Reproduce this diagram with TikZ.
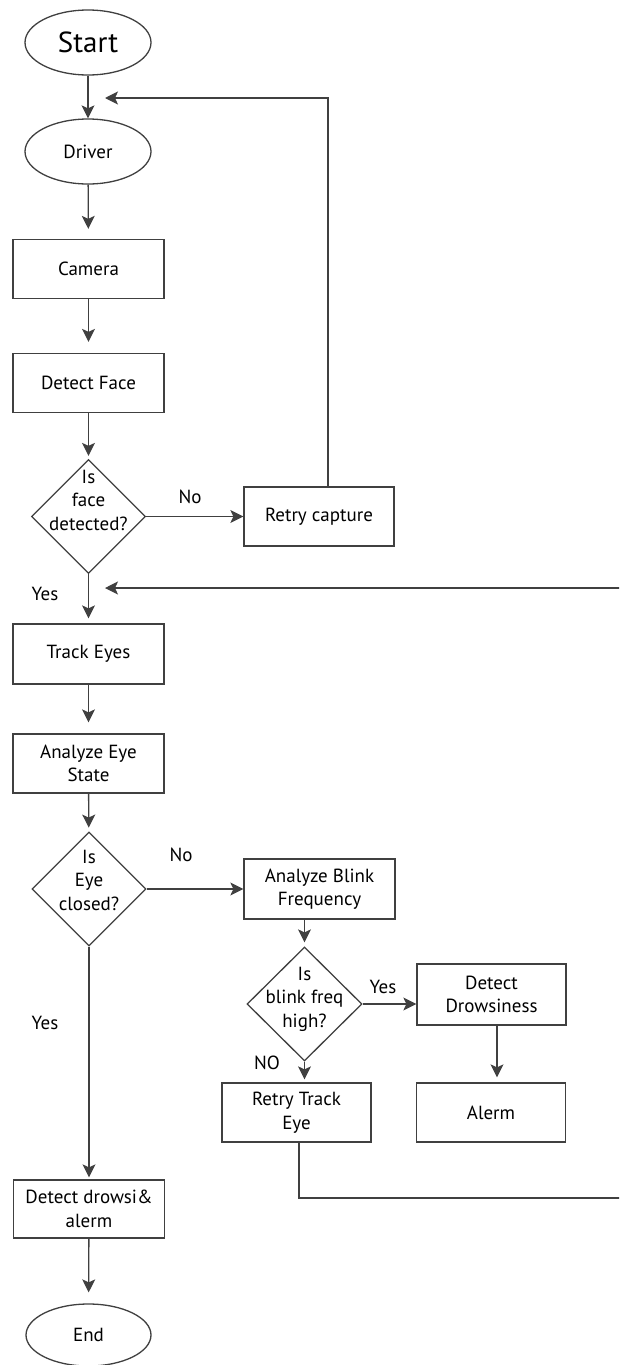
\documentclass[tikz,border=0pt]{standalone}
\usepackage{fontspec}
\setmainfont{PT Sans}
\usetikzlibrary{shapes.geometric,arrows.meta,calc}
\begin{document}
\begin{tikzpicture}[x=1pt,y=-1pt,
  line/.style={draw=black!75, line width=1.3pt},
  arr/.style={line, -{Stealth[length=13pt,width=13pt,inset=3pt]}},
  txt/.style={font=\fontsize{19}{23.5}\selectfont, align=center, inner sep=0pt},
  box/.style={rectangle, line, fill=white, txt, minimum width=151pt, minimum height=59pt},
  term/.style={ellipse, line, fill=white, txt, minimum width=126pt, minimum height=65pt},
  decision/.style={diamond, line, fill=white, minimum width=114pt, minimum height=114pt, inner sep=0pt},
  lbl/.style={font=\fontsize{19}{20}\selectfont, inner sep=0pt}
]
\useasboundingbox (0,0) rectangle (619,1365);
\clip (0,0) rectangle (619,1365);

% main column
\node[term, font=\fontsize{29}{30}\selectfont] (start) at (88,42.5) {Start};
\node[term] (driver) at (88,151.5) {Driver};
\node[box] (camera) at (88.5,269) {Camera};
\node[box] (face) at (88.5,383) {Detect Face};
\node[decision] (d1) at (88.5,516.5) {};
\node[txt] (d1t) at (88.5,500) {Is\\face\\detected?};
\node[box, minimum height=60pt] (track) at (88.5,654) {Track Eyes};
\node[box] (eye) at (88.5,763.5) {Analyze Eye\\State};
\node[decision] (d2) at (89,889) {};
\node[txt] (d2t) at (89,880) {Is\\Eye\\closed?};
\node[box, minimum height=58pt] (alarm) at (89,1209) {Detect drowsi\&\\alerm};
\node[term, minimum width=125pt, minimum height=62pt] (end) at (88.5,1335) {End};

% retry branch
\node[box, minimum width=150pt] (retry) at (319,516.5) {Retry capture};

% blink branch
\node[box, minimum height=60pt] (blink) at (319.5,889) {Analyze Blink\\Frequency};
\node[decision, minimum width=115pt] (d3) at (304.5,1004) {};
\node[txt] (d3t) at (304.5,999) {Is\\blink freq\\high?};
\node[box, minimum width=149pt, minimum height=61pt] (drowsy) at (491.5,994.5) {Detect\\Drowsiness};
\node[box, minimum width=149pt] (alerm) at (491,1112.5) {Alerm};
\node[box, minimum width=149pt] (rtrack) at (296.5,1112.5) {Retry Track\\Eye};

% branch labels
\node[lbl] (no1) at (190,497) {No};
\node[lbl] (yes1) at (45,594) {Yes};
\node[lbl] (no2) at (181,855) {No};
\node[lbl] (yes2) at (45,1023) {Yes};
\node[lbl] (yes3) at (383,987) {Yes};
\node[lbl] (no3) at (267,1063) {NO};

% return points of the loops
\coordinate (back1) at (105,98);
\coordinate (back2) at (105,588);
\coordinate (loopR) at (640,1198);

% connectors
\draw[arr] (start) -- (driver);
\draw[arr, shorten >=10pt] (driver) -- (camera);
\draw[arr, shorten >=11pt] (camera) -- (face);
\draw[arr, shorten >=3pt] (face) -- (d1);
\draw[arr] (d1) -- (retry);
\draw[arr, shorten >=5pt] (d1) -- (track);
\draw[arr] ([xshift=9pt]retry.north) |- (back1);
\draw[arr, shorten >=11pt] (track) -- (eye);
\draw[arr, shorten >=4pt] (eye) -- (d2);
\draw[arr] (d2) -- (blink);
\draw[arr, shorten >=2pt] (d2.south) -- (alarm.north);
\draw[arr, shorten >=11pt] (alarm) -- (end);
\draw[arr, shorten >=4pt] (blink.south -| d3.north) -- (d3.north);
\draw[arr] (d3.east) -- (d3.east -| drowsy.west);
\draw[arr, shorten >=3pt] (d3.south) -- (d3.south |- rtrack.north);
\draw[arr, shorten >=5pt] ([xshift=5.5pt]drowsy.south) -- ([xshift=5.5pt]drowsy.south |- alerm.north);
\draw[arr] ([xshift=2.5pt]rtrack.south) |- (loopR) |- (back2);
\end{tikzpicture}
\end{document}
